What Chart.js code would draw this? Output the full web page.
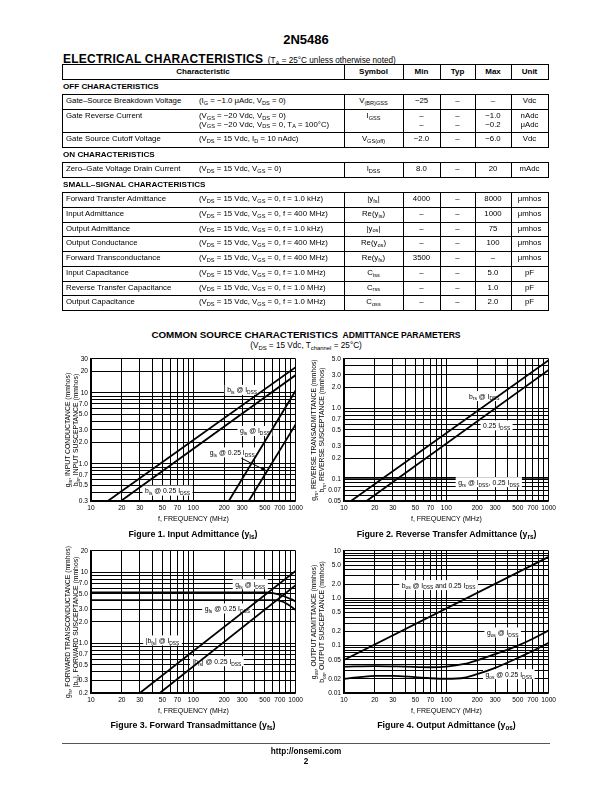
<!DOCTYPE html>
<html><head><meta charset="utf-8">
<script src="https://cdn.jsdelivr.net/npm/chart.js@4.4.1/dist/chart.umd.min.js"></script>
<style>
html,body{margin:0;padding:0;background:#fff;}
body{width:612px;height:792px;position:relative;overflow:hidden;font-family:"Liberation Sans",Arial,Helvetica,sans-serif;color:#000;}
.t{position:absolute;white-space:nowrap;}
sub{font-size:72%;vertical-align:baseline;position:relative;top:0.35em;line-height:0;}
.b{font-weight:bold;}
canvas{position:absolute;}
.yt{position:absolute;width:240px;text-align:center;font-size:6.8px;line-height:8px;height:8px;transform:rotate(-90deg);white-space:nowrap;}
.cap{position:absolute;width:320px;text-align:center;font-weight:bold;font-size:8.8px;line-height:10px;white-space:nowrap;}
</style></head><body>
<div class="t b" style="left:0;width:612px;text-align:center;top:33px;font-size:13px;line-height:14px;">2N5486</div>
<div class="t" style="left:63px;top:51px;line-height:13px;"><span class="b" style="font-size:12px;letter-spacing:0.25px">ELECTRICAL CHARACTERISTICS</span> <span style="font-size:8.2px">(T<sub>A</sub> = 25°C unless otherwise noted)</span></div>

<div class="t" style="left:0;width:612px;text-align:center;top:327px;line-height:12px;"><span class="b" style="font-size:9.8px">COMMON SOURCE CHARACTERISTICS</span> <span class="b" style="font-size:8.6px">ADMITTANCE PARAMETERS</span></div>
<div class="t" style="left:0;width:612px;text-align:center;top:341px;line-height:10px;font-size:8.2px;">(V<sub>DS</sub> = 15 Vdc, T<sub>channel</sub> = 25°C)</div>

<canvas id="fig1" width="245" height="171" style="left:61px;top:352px"></canvas>
<canvas id="fig2" width="245" height="171" style="left:314px;top:352px"></canvas>
<canvas id="fig3" width="245" height="171" style="left:61px;top:544px"></canvas>
<canvas id="fig4" width="245" height="171" style="left:314px;top:544px"></canvas>

<div class="yt" style="left:-52px;top:425.5px">g<sub>is</sub>, INPUT CONDUCTANCE (mmhos)</div>
<div class="yt" style="left:-44px;top:425.5px">b<sub>is</sub>, INPUT SUSCEPTANCE (mmhos)</div>
<div class="yt" style="left:194px;top:425.5px">g<sub>rs</sub>, REVERSE TRANSADMITTANCE (mmhos)</div>
<div class="yt" style="left:202px;top:425.5px">b<sub>rs</sub>, REVERSE SUSCEPTANCE (mmhos)</div>
<div class="yt" style="left:-52px;top:617.5px">g<sub>fs</sub>, FORWARD TRANSCONDUCTANCE (mmhos)</div>
<div class="yt" style="left:-44px;top:617.5px">|b<sub>fs</sub>|, FORWARD SUSCEPTANCE (mmhos)</div>
<div class="yt" style="left:194px;top:617.5px">g<sub>os</sub>, OUTPUT ADMITTANCE (mmhos)</div>
<div class="yt" style="left:202px;top:617.5px">b<sub>os</sub>, OUTPUT SUSCEPTANCE (mmhos)</div>

<div class="cap" style="left:33px;top:529px">Figure 1. Input Admittance (y<sub>is</sub>)</div>
<div class="cap" style="left:286.5px;top:529px">Figure 2. Reverse Transfer Admittance (y<sub>rs</sub>)</div>
<div class="cap" style="left:33px;top:720px">Figure 3. Forward Transadmittance (y<sub>fs</sub>)</div>
<div class="cap" style="left:286.5px;top:720px">Figure 4. Output Admittance (y<sub>os</sub>)</div>

<div style="position:absolute;left:62px;top:743px;width:488px;height:0;border-top:0.7px solid #555"></div>
<div class="t b" style="left:0;width:612px;text-align:center;top:747px;font-size:8.2px;line-height:10px;">http://onsemi.com</div>
<div class="t b" style="left:0;width:612px;text-align:center;top:757px;font-size:8.2px;line-height:10px;">2</div>

<script>
// ================= DATA =================
const FREQ_GRID = [10,20,30,40,50,60,70,80,90,100,200,300,400,500,600,700,800,900,1000];
const FREQ_TICK_LABELS = ['10','20','30','50','70','100','200','300','500','700','1000'];

// Figure 1 – Input admittance
const FIG1_Y_GRID = [0.3,0.4,0.5,0.6,0.7,0.8,0.9,1,2,3,4,5,6,7,8,9,10,20,30];
const FIG1_Y_TICK_LABELS = ['0.3','0.5','0.7','1.0','2.0','3.0','5.0','7.0','10','20','30'];
const FIG1_BIS_IDSS_F = [14.6, 1000];
const FIG1_BIS_IDSS   = [0.3, 23];
const FIG1_BIS_025_F  = [19.6, 1000];
const FIG1_BIS_025    = [0.3, 17.8];
const FIG1_GIS_IDSS_F = [222, 1000];
const FIG1_GIS_IDSS   = [0.3, 10.8];
const FIG1_GIS_025_F  = [348, 1000];
const FIG1_GIS_025    = [0.3, 3.6];

// Figure 2 – Reverse transfer admittance
const FIG2_Y_GRID = [0.05,0.06,0.07,0.08,0.09,0.1,0.2,0.3,0.4,0.5,0.6,0.7,0.8,0.9,1,2,3,4,5];
const FIG2_Y_TICK_LABELS = ['0.05','0.07','0.1','0.2','0.3','0.5','0.7','1.0','2.0','3.0','5.0'];
const FIG2_BRS_IDSS_F = [11.7, 1000];
const FIG2_BRS_IDSS   = [0.05, 4.8];
const FIG2_BRS_025_F  = [16.6, 1000];
const FIG2_BRS_025    = [0.05, 3.5];
const FIG2_GRS_F      = [10, 1000];
const FIG2_GRS        = [0.106, 0.106];

// Figure 3 – Forward transadmittance
const FIG3_Y_GRID = [0.2,0.3,0.4,0.5,0.6,0.7,0.8,0.9,1,2,3,4,5,6,7,8,9,10,20];
const FIG3_Y_TICK_LABELS = ['0.2','0.3','0.5','0.7','1.0','2.0','3.0','5.0','7.0','10','20'];
const FIG3_GFS_IDSS_F = [10, 500, 600, 700, 800, 900, 1000];
const FIG3_GFS_IDSS   = [5.2, 5.2, 5.1, 4.85, 4.5, 4.2, 3.9];
const FIG3_GFS_025_F  = [10, 650, 750, 850, 1000];
const FIG3_GFS_025    = [4.05, 4.05, 3.85, 3.5, 2.95];
const FIG3_BFS_IDSS_F = [30, 1000];
const FIG3_BFS_IDSS   = [0.2, 10.5];
const FIG3_BFS_025_F  = [47, 1000];
const FIG3_BFS_025    = [0.2, 6.6];

// Figure 4 – Output admittance
const FIG4_Y_GRID = [0.01,0.02,0.03,0.04,0.05,0.06,0.07,0.08,0.09,0.1,0.2,0.3,0.4,0.5,0.6,0.7,0.8,0.9,1,2,3,4,5,6,7,8,9,10];
const FIG4_Y_TICK_LABELS = ['0.01','0.02','0.05','0.1','0.2','0.5','1.0','2.0','5.0','10'];
const FIG4_BOS_F      = [10, 1000];
const FIG4_BOS        = [0.05, 7.5];
const FIG4_GOS_IDSS_F = [10, 20, 40, 70, 100, 150, 200, 300, 500, 700, 1000];
const FIG4_GOS_IDSS   = [0.036, 0.037, 0.036, 0.035, 0.036, 0.041, 0.049, 0.066, 0.1, 0.14, 0.21];
const FIG4_GOS_025_F  = [10, 15, 20, 30, 50, 70, 100, 150, 200, 300, 500, 700, 1000];
const FIG4_GOS_025    = [0.02, 0.022, 0.023, 0.023, 0.0215, 0.0205, 0.02, 0.021, 0.025, 0.034, 0.055, 0.077, 0.115];

// ================= TABLE =================
const TCOLS = [62, 344, 403, 440, 475, 511, 548];
const TROWS = [
 {type:'head', h:15, v:['Characteristic','Symbol','Min','Typ','Max','Unit']},
 {type:'sec', h:15, text:'OFF CHARACTERISTICS'},
 {type:'row', h:15, n:'Gate–Source Breakdown Voltage', c:'(I<sub>G</sub> = −1.0 μAdc, V<sub>DS</sub> = 0)', v:['V<sub>(BR)GSS</sub>','−25','–','–','Vdc']},
 {type:'row', h:23, n:'Gate Reverse Current', c:'(V<sub>GS</sub> = −20 Vdc, V<sub>DS</sub> = 0)<br>(V<sub>GS</sub> = −20 Vdc, V<sub>DS</sub> = 0, T<sub>A</sub> = 100°C)', v:['I<sub>GSS</sub>','–<br>–','–<br>–','−1.0<br>−0.2','nAdc<br>μAdc']},
 {type:'row', h:15, n:'Gate Source Cutoff Voltage', c:'(V<sub>DS</sub> = 15 Vdc, I<sub>D</sub> = 10 nAdc)', v:['V<sub>GS(off)</sub>','−2.0','–','−6.0','Vdc']},
 {type:'sec', h:15, text:'ON CHARACTERISTICS'},
 {type:'row', h:15, n:'Zero–Gate Voltage Drain Current', c:'(V<sub>DS</sub> = 15 Vdc, V<sub>GS</sub> = 0)', v:['I<sub>DSS</sub>','8.0','–','20','mAdc']},
 {type:'sec', h:15, text:'SMALL–SIGNAL CHARACTERISTICS'},
 {type:'row', h:14.75, n:'Forward Transfer Admittance', c:'(V<sub>DS</sub> = 15 Vdc, V<sub>GS</sub> = 0, f = 1.0 kHz)', v:['|y<sub>fs</sub>|','4000','–','8000','μmhos']},
 {type:'row', h:14.75, n:'Input Admittance', c:'(V<sub>DS</sub> = 15 Vdc, V<sub>GS</sub> = 0, f = 400 MHz)', v:['Re(y<sub>is</sub>)','–','–','1000','μmhos']},
 {type:'row', h:14.75, n:'Output Admittance', c:'(V<sub>DS</sub> = 15 Vdc, V<sub>GS</sub> = 0, f = 1.0 kHz)', v:['|y<sub>os</sub>|','–','–','75','μmhos']},
 {type:'row', h:14.75, n:'Output Conductance', c:'(V<sub>DS</sub> = 15 Vdc, V<sub>GS</sub> = 0, f = 400 MHz)', v:['Re(y<sub>os</sub>)','–','–','100','μmhos']},
 {type:'row', h:14.75, n:'Forward Transconductance', c:'(V<sub>DS</sub> = 15 Vdc, V<sub>GS</sub> = 0, f = 400 MHz)', v:['Re(y<sub>fs</sub>)','3500','–','–','μmhos']},
 {type:'row', h:14.75, n:'Input Capacitance', c:'(V<sub>DS</sub> = 15 Vdc, V<sub>GS</sub> = 0, f = 1.0 MHz)', v:['C<sub>iss</sub>','–','–','5.0','pF']},
 {type:'row', h:14.75, n:'Reverse Transfer Capacitance', c:'(V<sub>DS</sub> = 15 Vdc, V<sub>GS</sub> = 0, f = 1.0 MHz)', v:['C<sub>rss</sub>','–','–','1.0','pF']},
 {type:'row', h:14.75, n:'Output Capacitance', c:'(V<sub>DS</sub> = 15 Vdc, V<sub>GS</sub> = 0, f = 1.0 MHz)', v:['C<sub>oss</sub>','–','–','2.0','pF']}
];

function addDiv(html, css, cls) {
  const d = document.createElement('div');
  if (cls) d.className = cls;
  d.style.cssText = css; d.innerHTML = html;
  document.body.appendChild(d); return d;
}
function rule(x, y, w, h) {
  addDiv('', `position:absolute;left:${x}px;top:${Math.round(y)}px;width:${w}px;height:${h}px;background:#000`);
}
(function buildTable(){
  let y = 64;
  const TW = TCOLS[6] - TCOLS[0];
  TROWS.forEach((r, i) => {
    const next = TROWS[i+1];
    if (r.type === 'sec') {
      addDiv(r.text, `left:${TCOLS[0]+1}px;top:${y+3}px;line-height:9px;font-size:8.1px;font-weight:bold`, 't');
    } else {
      const yt = Math.round(y), yb = Math.round(y + r.h);
      rule(TCOLS[0], yt, TW + 1, 1);
      if (!next || next.type !== 'row' || r.type === 'head') rule(TCOLS[0], yb, TW + 1, 1);
      [0,1,2,3,4,5,6].forEach(k => rule(TCOLS[k], yt, 1, yb - yt + 1));
      if (r.type === 'head') {
        r.v.forEach((txt, k) => addDiv(txt, `left:${TCOLS[k]}px;width:${TCOLS[k+1]-TCOLS[k]}px;text-align:center;top:${y+3}px;line-height:9px;font-size:8px;font-weight:bold`, 't'));
      } else {
        addDiv(r.n, `left:66px;top:${y+3}px;line-height:8.5px;font-size:7.8px`, 't');
        addDiv(r.c, `left:199px;top:${y+3}px;line-height:8.5px;font-size:7.8px`, 't');
        r.v.forEach((txt, k) => addDiv(txt, `left:${TCOLS[k+1]}px;width:${TCOLS[k+2]-TCOLS[k+1]}px;text-align:center;top:${y+3}px;line-height:8.5px;font-size:7.8px`, 't'));
      }
    }
    y += r.h;
  });
})();

// ================= CHARTS =================
const FONT = '"Liberation Sans", Arial, Helvetica, sans-serif';
const LBL_SIZE = 6.8;

function logInterp(F, Y, f) {
  for (let i = 0; i < F.length - 1; i++) {
    if (f >= F[i] && f <= F[i+1]) {
      const t = (Math.log(f) - Math.log(F[i])) / (Math.log(F[i+1]) - Math.log(F[i]));
      return Math.exp(Math.log(Y[i]) + t * (Math.log(Y[i+1]) - Math.log(Y[i])));
    }
  }
  return Y[Y.length - 1];
}

function richWidth(ctx, segs, size) {
  let w = 0;
  segs.forEach(([s, sub]) => { ctx.font = (sub ? size * 0.72 : size) + 'px ' + FONT; w += ctx.measureText(s).width; });
  return w;
}
function drawRich(ctx, segs, x, yBase, size) {
  let cx = x;
  ctx.textBaseline = 'alphabetic'; ctx.textAlign = 'left'; ctx.fillStyle = '#000';
  segs.forEach(([s, sub]) => {
    const fs = sub ? size * 0.72 : size;
    ctx.font = fs + 'px ' + FONT;
    ctx.fillText(s, cx, yBase + (sub ? 1.9 : 0));
    cx += ctx.measureText(s).width;
  });
}
function labelBox(chart, it) {
  const {ctx, scales: {x, y}} = chart;
  const w = richWidth(ctx, it.t, LBL_SIZE);
  const px = x.getPixelForValue(it.f), py = y.getPixelForValue(it.v);
  return {w, px, py, bx: px - w/2 - 2.5, by: py - 5, bw: w + 5, bh: 10};
}
const curveLabels = {
  id: 'curveLabels',
  beforeDatasetsDraw(chart, args, opts) {
    const ctx = chart.ctx;
    (opts.items || []).forEach(it => {
      if (it.over) return;
      const b = labelBox(chart, it);
      ctx.save(); ctx.fillStyle = '#fff'; ctx.fillRect(b.bx, b.by, b.bw, b.bh); ctx.restore();
    });
  },
  afterDatasetsDraw(chart, args, opts) {
    const ctx = chart.ctx;
    const {x, y} = chart.scales;
    ctx.save();
    (opts.items || []).forEach(it => {
      const b = labelBox(chart, it);
      if (it.over) { ctx.fillStyle = '#fff'; ctx.fillRect(b.bx, b.by, b.bw, b.bh); }
      drawRich(ctx, it.t, b.px - b.w/2, b.py + LBL_SIZE * 0.36, LBL_SIZE);
    });
    (opts.arrows || []).forEach(a => {
      const x0 = x.getPixelForValue(a.f0), y0 = y.getPixelForValue(a.v0);
      const x1 = x.getPixelForValue(a.f1), y1 = y.getPixelForValue(a.v1);
      const ang = Math.atan2(y1 - y0, x1 - x0);
      ctx.strokeStyle = '#000'; ctx.lineWidth = 1; ctx.fillStyle = '#000';
      ctx.beginPath(); ctx.moveTo(x0, y0); ctx.lineTo(x1 - 4 * Math.cos(ang), y1 - 4 * Math.sin(ang)); ctx.stroke();
      ctx.beginPath();
      ctx.moveTo(x1, y1);
      ctx.lineTo(x1 - 6 * Math.cos(ang) + 2 * Math.sin(ang), y1 - 6 * Math.sin(ang) - 2 * Math.cos(ang));
      ctx.lineTo(x1 - 6 * Math.cos(ang) - 2 * Math.sin(ang), y1 - 6 * Math.sin(ang) + 2 * Math.cos(ang));
      ctx.closePath(); ctx.fill();
    });
    ctx.restore();
  }
};

function tickLabeler(labels) {
  const vals = labels.map(parseFloat);
  return v => { const i = vals.findIndex(t => Math.abs(t - v) <= t * 1e-6); return i >= 0 ? labels[i] : ''; };
}
function series(F, Y, smooth) {
  return {
    data: F.map((f, i) => ({x: f, y: Y[i]})),
    borderColor: '#000', borderWidth: 1.8, pointRadius: 0, fill: false,
    tension: smooth ? 0.4 : 0, cubicInterpolationMode: smooth ? 'monotone' : 'default'
  };
}
function makeChart(id, yMin, yMax, yGrid, yLabels, datasets, items, arrows) {
  const axisCommon = {
    type: 'logarithmic',
    grid: {color: '#000', lineWidth: 1, drawTicks: false},
    border: {color: '#000', width: 1.2},
  };
  return new Chart(document.getElementById(id), {
    type: 'line',
    data: {datasets},
    options: {
      responsive: false, animation: false, devicePixelRatio: 1,
      layout: {padding: {left: 0, top: 6, right: 10, bottom: 0}},
      plugins: {legend: {display: false}, tooltip: {enabled: false}, curveLabels: {items, arrows}},
      scales: {
        x: Object.assign({}, axisCommon, {
          min: 10, max: 1000,
          afterBuildTicks: s => { s.ticks = FREQ_GRID.map(v => ({value: v})); },
          afterFit: s => { s.height = 22; },
          ticks: {autoSkip: false, maxRotation: 0, minRotation: 0, padding: 3, color: '#000', font: {family: FONT, size: 6.6}, callback: tickLabeler(FREQ_TICK_LABELS)},
          title: {display: true, text: 'f, FREQUENCY (MHz)', color: '#000', font: {family: FONT, size: 7}, padding: 0}
        }),
        y: Object.assign({}, axisCommon, {
          min: yMin, max: yMax,
          afterBuildTicks: s => { s.ticks = yGrid.map(v => ({value: v})); },
          afterFit: s => { s.width = 30; },
          ticks: {autoSkip: false, padding: 3, color: '#000', font: {family: FONT, size: 6.6}, callback: tickLabeler(yLabels)}
        })
      }
    },
    plugins: [curveLabels]
  });
}

const I_DSS = [[' @ I'], ['DSS', 1]];
const Q_DSS = [[' @ 0.25 I'], ['DSS', 1]];

makeChart('fig1', 0.3, 30, FIG1_Y_GRID, FIG1_Y_TICK_LABELS, [
  series(FIG1_BIS_IDSS_F, FIG1_BIS_IDSS),
  series(FIG1_BIS_025_F, FIG1_BIS_025),
  series(FIG1_GIS_IDSS_F, FIG1_GIS_IDSS),
  series(FIG1_GIS_025_F, FIG1_GIS_025)
], [
  {f: 300, v: 11, t: [['b'], ['is', 1], ...I_DSS]},
  {f: 400, v: 2.9, t: [['g'], ['is', 1], ...I_DSS]},
  {f: 240, v: 1.45, t: [['g'], ['is', 1], ...Q_DSS]},
  {f: 56, v: 0.42, t: [['b'], ['is', 1], ...Q_DSS]}
], [
  {f0: 295, v0: 1.2, f1: 525, v1: logInterp(FIG1_GIS_025_F, FIG1_GIS_025, 525)}
]);

makeChart('fig2', 0.05, 5, FIG2_Y_GRID, FIG2_Y_TICK_LABELS, [
  series(FIG2_BRS_IDSS_F, FIG2_BRS_IDSS),
  series(FIG2_BRS_025_F, FIG2_BRS_025),
  series(FIG2_GRS_F, FIG2_GRS)
], [
  {f: 235, v: 1.5, t: [['b'], ['rs', 1], ...I_DSS]},
  {f: 310, v: 0.58, t: [['0.25 I'], ['DSS', 1]]},
  {f: 260, v: 0.092, over: true, t: [['g'], ['rs', 1], ...I_DSS, [', 0.25 I'], ['DSS', 1]]}
], []);

makeChart('fig3', 0.2, 20, FIG3_Y_GRID, FIG3_Y_TICK_LABELS, [
  series(FIG3_GFS_IDSS_F, FIG3_GFS_IDSS, true),
  series(FIG3_GFS_025_F, FIG3_GFS_025, true),
  series(FIG3_BFS_IDSS_F, FIG3_BFS_IDSS),
  series(FIG3_BFS_025_F, FIG3_BFS_025)
], [
  {f: 360, v: 6.8, t: [['g'], ['fs', 1], ...I_DSS]},
  {f: 215, v: 3.1, t: [['g'], ['fs', 1], ...Q_DSS]},
  {f: 50, v: 1.1, t: [['|b'], ['fs', 1], ['| @ I'], ['DSS', 1]]},
  {f: 170, v: 0.56, t: [['|b'], ['fs', 1], ['| @ 0.25 I'], ['DSS', 1]]}
], []);

makeChart('fig4', 0.01, 10, FIG4_Y_GRID, FIG4_Y_TICK_LABELS, [
  series(FIG4_BOS_F, FIG4_BOS),
  series(FIG4_GOS_IDSS_F, FIG4_GOS_IDSS, true),
  series(FIG4_GOS_025_F, FIG4_GOS_025, true)
], [
  {f: 84, v: 1.9, t: [['b'], ['os', 1], ...I_DSS, [' and 0.25 I'], ['DSS', 1]]},
  {f: 355, v: 0.19, t: [['g'], ['os', 1], ...I_DSS]},
  {f: 408, v: 0.025, t: [['g'], ['os', 1], ...Q_DSS]}
], []);
</script>
</body></html>
